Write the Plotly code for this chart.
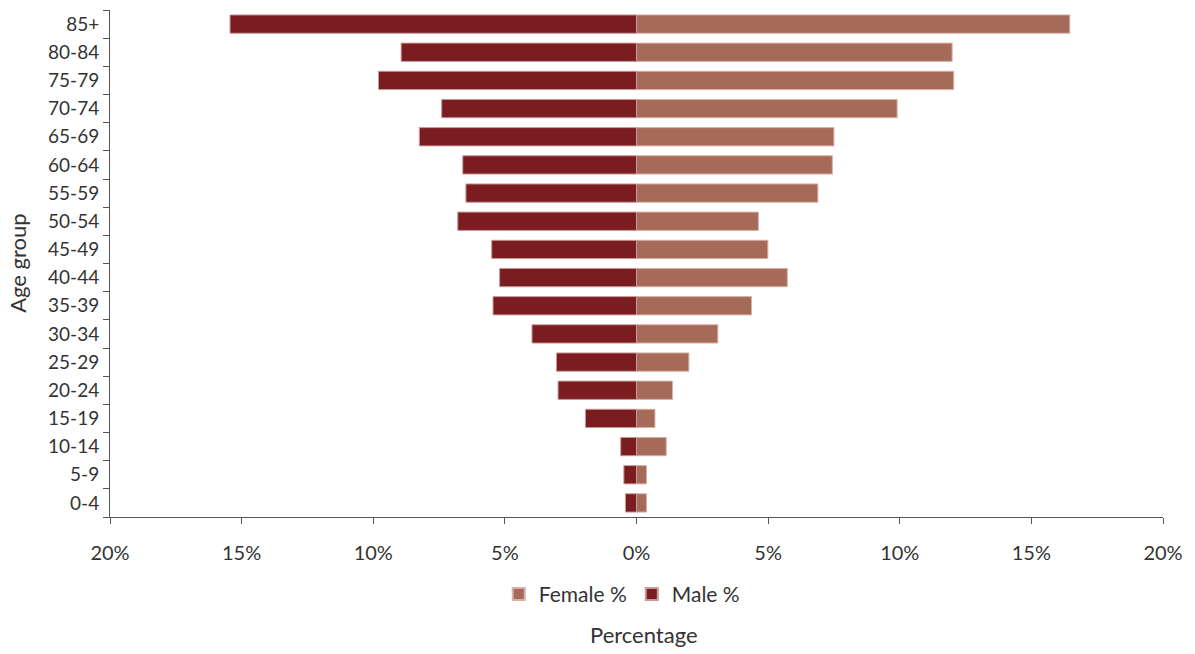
import plotly.graph_objects as go

# Age groups, top to bottom as drawn (85+ at top)
age_groups = ["85+", "80-84", "75-79", "70-74", "65-69", "60-64", "55-59", "50-54",
              "45-49", "40-44", "35-39", "30-34", "25-29", "20-24", "15-19",
              "10-14", "5-9", "0-4"]

# Share of each sex in each age group (%)
male_pct = [15.44, 8.94, 9.80, 7.40, 8.25, 6.60, 6.48, 6.79, 5.50, 5.20, 5.45,
            3.97, 3.04, 2.98, 1.94, 0.60, 0.48, 0.42]
female_pct = [16.46, 11.99, 12.05, 9.90, 7.50, 7.44, 6.89, 4.63, 4.99, 5.73, 4.37,
              3.09, 1.99, 1.37, 0.70, 1.13, 0.38, 0.38]

tick_vals = [-20, -15, -10, -5, 0, 5, 10, 15, 20]
tick_text = ["20%", "15%", "10%", "5%", "0%", "5%", "10%", "15%", "20%"]

MALE_COLOR = "#7B1C20"
FEMALE_COLOR = "#A66B58"
TEXT_COLOR = "#333333"
AXIS_COLOR = "#555555"
FONT = "Lato, 'Open Sans', sans-serif"

fig = go.Figure()
fig.add_trace(go.Bar(
    y=age_groups, x=female_pct, orientation="h", name="Female %",
    marker=dict(color=FEMALE_COLOR, line=dict(color="#D8B2A8", width=1)),
))
fig.add_trace(go.Bar(
    y=age_groups, x=[-v for v in male_pct], orientation="h", name="Male %",
    marker=dict(color=MALE_COLOR, line=dict(color="#C99A9C", width=1)),
))

fig.update_layout(
    width=1195, height=654,
    barmode="relative", bargap=0.35,
    plot_bgcolor="white", paper_bgcolor="white",
    margin=dict(l=110, r=32, t=10, b=137, autoexpand=False),
    font=dict(family=FONT, size=19, color=TEXT_COLOR),
    legend=dict(orientation="h", x=0.486, xanchor="center", y=-0.112, yanchor="top",
                font=dict(size=21), traceorder="normal", itemwidth=30,
                tracegroupgap=0, itemsizing="constant"),
    xaxis=dict(
        range=[-20, 20], tickmode="array", tickvals=tick_vals, ticktext=tick_text,
        showgrid=False, zeroline=False, showline=True, linecolor=AXIS_COLOR, linewidth=1,
        ticks="outside", ticklen=6, tickcolor=AXIS_COLOR,
        tickfont=dict(size=20), ticklabelstandoff=12, automargin=False,
    ),
    yaxis=dict(
        categoryorder="array", categoryarray=age_groups[::-1],
        showgrid=False, showline=True, linecolor=AXIS_COLOR, linewidth=1,
        ticks="outside", ticklen=6, tickcolor=AXIS_COLOR, tickson="boundaries",
        tickfont=dict(size=19), ticklabelstandoff=6, automargin=False,
    ),
    annotations=[
        dict(text="Percentage", xref="paper", yref="paper", x=0.507, y=-0.262,
             xanchor="center", yanchor="bottom", showarrow=False,
             font=dict(size=22, color=TEXT_COLOR)),
        dict(text="Age group", xref="paper", yref="paper", x=-0.088, y=0.5,
             xanchor="center", yanchor="middle", showarrow=False, textangle=-90,
             font=dict(size=22, color=TEXT_COLOR)),
    ],
)

fig.write_html("out.html")
